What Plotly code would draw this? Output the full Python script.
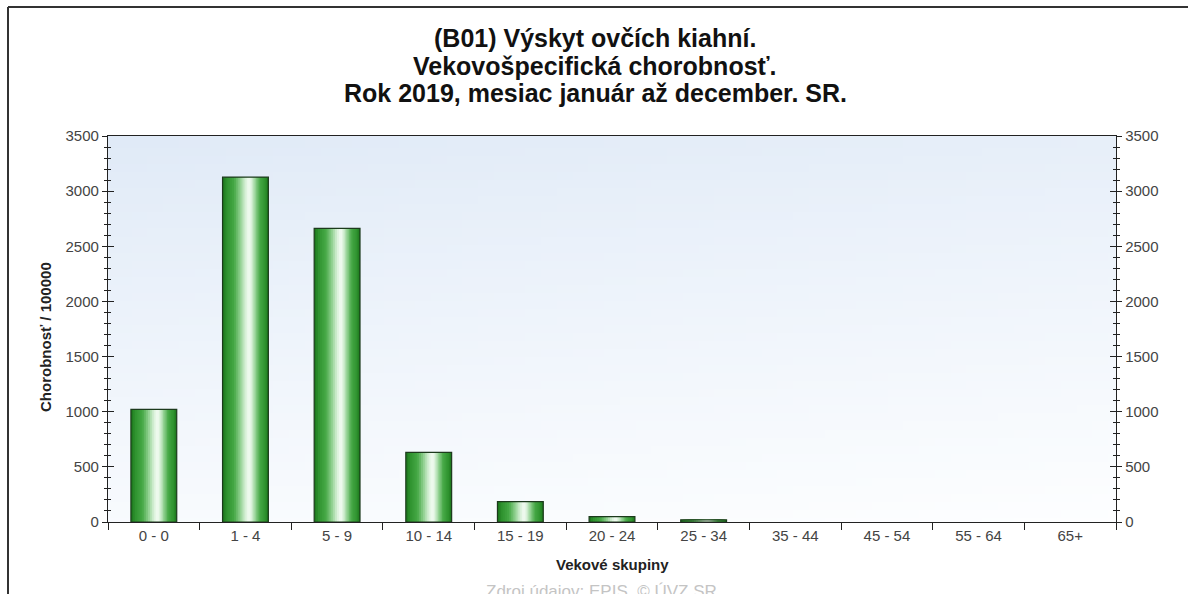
import base64
import struct
import zlib
import plotly.graph_objects as go

# ---------------- data ----------------
categories = ["0 - 0", "1 - 4", "5 - 9", "10 - 14", "15 - 19", "20 - 24",
              "25 - 34", "35 - 44", "45 - 54", "55 - 64", "65+"]
morbidity = [1021, 3127, 2662, 632, 185, 48, 20, 0, 0, 0, 0]

title_lines = ["(B01) Výskyt ovčích kiahní.",
               "Vekovošpecifická chorobnosť.",
               "Rok 2019, mesiac január až december. SR."]
y_title = "Chorobnosť / 100000"
x_title = "Vekové skupiny"
footer = "Zdroj údajov: EPIS, © ÚVZ SR"

FONT = "Liberation Sans, Arial, sans-serif"

# plot-area geometry in pixels (style)
L, R, T, B = 108, 1116, 136, 522
W, H = R - L, B - T


def px_x(x):
    return (x - L) / W


def px_y(y):
    return (B - y) / H


# ---------------- background gradient image (style only) ----------------
def gradient_png(w, h):
    top = (224, 234, 247)
    bot = (253, 254, 255)
    rows = []
    for j in range(h):
        row = bytearray([0])
        for i in range(w):
            t = 0.8 * (j / (h - 1)) + 0.2 * (i / (w - 1))
            t = min(1.0, max(0.0, t)) ** 0.9
            for k in range(3):
                row.append(int(round(top[k] + (bot[k] - top[k]) * t)))
        rows.append(bytes(row))
    raw = b"".join(rows)

    def chunk(tag, data):
        c = struct.pack(">I", len(data)) + tag + data
        return c + struct.pack(">I", zlib.crc32(tag + data) & 0xffffffff)

    png = b"\x89PNG\r\n\x1a\n"
    png += chunk(b"IHDR", struct.pack(">IIBBBBB", w, h, 8, 2, 0, 0, 0))
    png += chunk(b"IDAT", zlib.compress(raw, 9))
    png += chunk(b"IEND", b"")
    return "data:image/png;base64," + base64.b64encode(png).decode()


def mix(c1, c2, t):
    return "#%02x%02x%02x" % tuple(int(round(a + (b - a) * t)) for a, b in zip(c1, c2))


# ---------------- cylindrical bars via nested overlaid layers ----------------
BAR_W = 0.5
PEAK = 0.58            # relative position of the highlight across the bar
stops = [(0.0, (30, 122, 30)), (0.12, (46, 146, 46)), (0.40, (70, 168, 70)),
         (0.62, (140, 206, 140)), (0.82, (214, 240, 214)), (1.0, (252, 255, 252))]


def color_at(s):
    for (s0, c0), (s1, c1) in zip(stops, stops[1:]):
        if s <= s1:
            return mix(c0, c1, (s - s0) / (s1 - s0))
    return mix(stops[-1][1], stops[-1][1], 0)


N_LAYERS = 14
layer_specs = []
for k in range(N_LAYERS):
    s = k / N_LAYERS
    a = PEAK * s                   # left edge (0..1 of bar width)
    b = 1 - (1 - PEAK) * s         # right edge
    b = max(b, a + 0.06)
    layer_specs.append((BAR_W * (b - a), -BAR_W / 2 + BAR_W * a, color_at(s)))

# overlay axes are drawn in order y, y2, y3, y4 -> spread layers over them
axis_for_layer = ["y"] * 4 + ["y2"] * 4 + ["y3"] * 6

fig = go.Figure()
for (w, off, col), ax in zip(layer_specs, axis_for_layer):
    fig.add_trace(go.Bar(
        x=categories, y=morbidity, width=w, offset=off, yaxis=ax,
        marker=dict(color=col, line=dict(width=0)),
        hoverinfo="skip", showlegend=False,
    ))
# outline (hidden for empty groups)
fig.add_trace(go.Bar(
    x=categories, y=morbidity, width=BAR_W, offset=-BAR_W / 2, yaxis="y4",
    marker=dict(color="rgba(0,0,0,0)",
                line=dict(color="#1c3a1c",
                          width=[1.2 if v > 0 else 0 for v in morbidity])),
    showlegend=False, hovertemplate="%{x}: %{y}<extra></extra>",
))

tickfont = dict(family=FONT, size=15, color="#444444")
yrange = [0, 3500]
AX = "#222222"


def yax(side, inside, labels):
    return dict(
        range=yrange, dtick=500, side=side,
        ticks="inside" if inside else "outside",
        ticklen=6 if inside else 5, tickwidth=1.3, tickcolor=AX,
        minor=dict(dtick=100, ticks="inside" if inside else "outside",
                   ticklen=3, tickwidth=1, tickcolor=AX),
        showgrid=False, zeroline=False,
        showticklabels=labels, tickfont=tickfont,
        showline=not inside, linecolor=AX, linewidth=1.3,
        fixedrange=True,
    )


y1 = yax("left", False, True)
y2 = yax("right", False, True)
y2.update(overlaying="y", anchor="x")
y3 = yax("left", True, False)
y3.update(overlaying="y", anchor="x")
y4 = yax("right", True, False)
y4.update(overlaying="y", anchor="x")

annotations = []
title_centers = [38, 65.5, 93]
for line, yc in zip(title_lines, title_centers):
    annotations.append(dict(
        text="<b>" + line + "</b>", xref="paper", yref="paper",
        x=px_x(595), y=px_y(yc), xanchor="center", yanchor="middle",
        showarrow=False, font=dict(family=FONT, size=25, color="#111111")))
annotations += [
    dict(text="<b>" + y_title + "</b>", textangle=-90,
         xref="paper", yref="paper", x=px_x(45), y=px_y(337),
         xanchor="center", yanchor="middle", showarrow=False,
         font=dict(family=FONT, size=15, color="#222222")),
    dict(text="<b>" + x_title + "</b>",
         xref="paper", yref="paper", x=0.5, y=px_y(564),
         xanchor="center", yanchor="middle", showarrow=False,
         font=dict(family=FONT, size=15, color="#222222")),
    dict(text=footer,
         xref="paper", yref="paper", x=px_x(601), y=px_y(580),
         xanchor="center", yanchor="top", showarrow=False,
         font=dict(family=FONT, size=17, color="#c4c4c4")),
]

fig.update_layout(
    width=1188, height=594,
    margin=dict(l=L, r=1188 - R, t=T, b=594 - B, autoexpand=False),
    paper_bgcolor="white",
    plot_bgcolor="rgba(0,0,0,0)",
    barmode="overlay",
    font=dict(family=FONT, color="#222222"),
    xaxis=dict(
        type="category", range=[-0.5, 10.5],
        showline=True, linecolor=AX, linewidth=1.3, mirror=True,
        ticks="outside", ticklen=7, tickwidth=1.3, tickcolor=AX,
        tickson="boundaries", showgrid=False, zeroline=False,
        tickfont=tickfont, automargin=False, fixedrange=True,
    ),
    yaxis=y1, yaxis2=y2, yaxis3=y3, yaxis4=y4,
    images=[dict(
        source=gradient_png(64, 48), xref="paper", yref="paper",
        x=0, y=1, sizex=1, sizey=1, xanchor="left", yanchor="top",
        sizing="stretch", layer="below",
    )],
    shapes=[
        dict(type="line", xref="paper", yref="paper",
             x0=px_x(8), x1=px_x(1190), y0=px_y(7), y1=px_y(7),
             line=dict(color="#333333", width=2)),
        dict(type="line", xref="paper", yref="paper",
             x0=px_x(8), x1=px_x(8), y0=px_y(7), y1=px_y(600),
             line=dict(color="#333333", width=2)),
    ],
    annotations=annotations,
)

fig.write_html("out.html",
               config={"displayModeBar": False},
               post_script="document.body.style.margin='0';"
                           "document.body.style.overflow='hidden';")
